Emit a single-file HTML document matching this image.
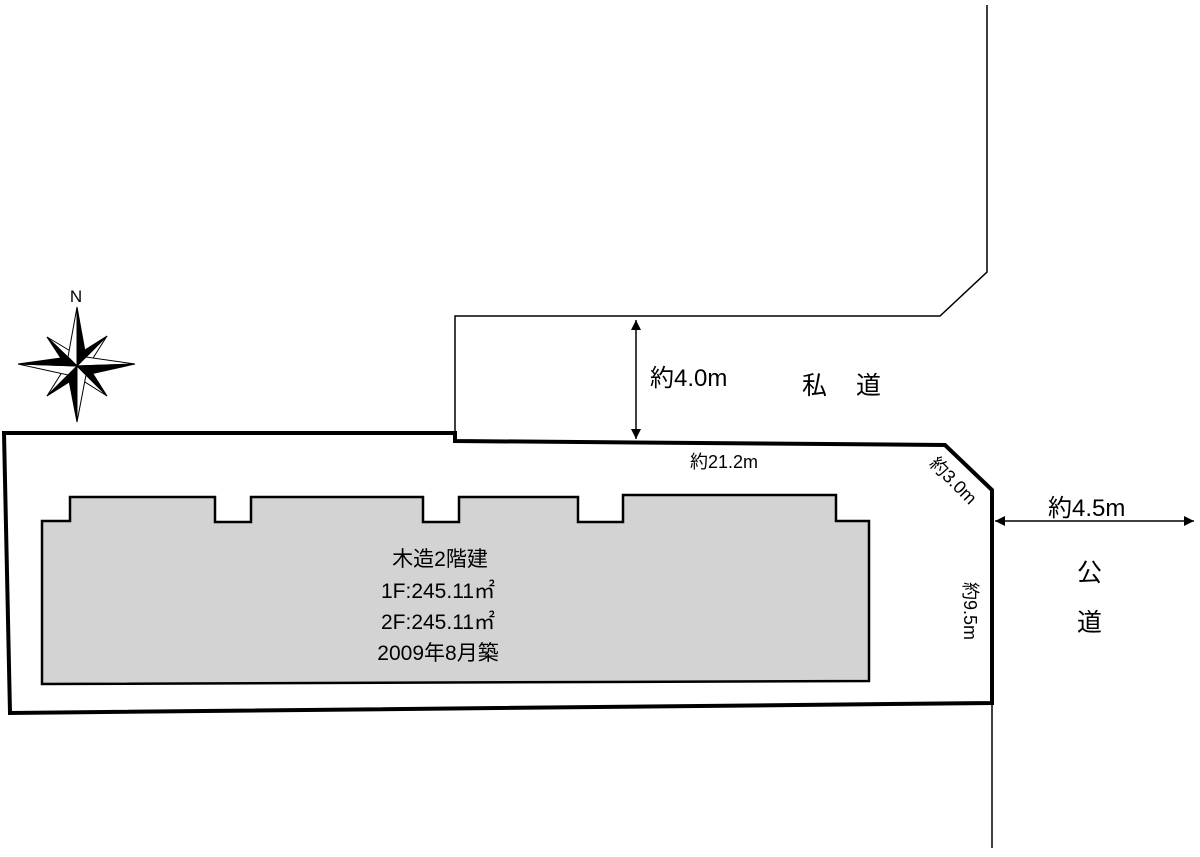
<!DOCTYPE html>
<html><head><meta charset="utf-8"><style>
html,body{margin:0;padding:0;background:#fff;}
svg{display:block;}
text{font-family:"Liberation Sans","Noto Sans CJK JP",sans-serif;fill:#000;}
</style></head><body>
<svg width="1200" height="857" viewBox="0 0 1200 857" xmlns="http://www.w3.org/2000/svg">
<defs>
<marker id="a" viewBox="0 0 10 10" refX="10" refY="5" markerWidth="10" markerHeight="10" orient="auto-start-reverse" markerUnits="userSpaceOnUse"><path d="M0,0 L10,5 L0,10 z" fill="#000"/></marker>
</defs>
<polyline points="455,433 455,316 940,316 987,272 987,5" fill="none" stroke="#000" stroke-width="1.5"/>
<line x1="992" y1="703" x2="992" y2="848" stroke="#000" stroke-width="1.5"/>
<polygon points="4,433 455,433 455,441 945,445 992,490 992,703 10,713" fill="none" stroke="#000" stroke-width="4"/>
<polygon points="42,521 70,521 70,497 215,497 215,522 251,522 251,497 423,497 423,522 459,522 459,497 578,497 578,522 623,522 623,495 836,495 836,521 869,521 869,681 42,684" fill="#d3d3d3" stroke="#000" stroke-width="2.5"/>
<g font-size="21" text-anchor="middle">
<text x="440" y="566">木造2階建</text>
<text x="438" y="598">1F:245.11㎡</text>
<text x="438" y="629">2F:245.11㎡</text>
<text x="438" y="660">2009年8月築</text>
</g>
<line x1="636" y1="320" x2="636" y2="439" stroke="#000" stroke-width="1.5" marker-start="url(#a)" marker-end="url(#a)"/>
<line x1="995" y1="521" x2="1194" y2="521" stroke="#000" stroke-width="1.5" marker-start="url(#a)" marker-end="url(#a)"/>
<text x="650" y="386" font-size="24">約4.0m</text>
<text x="802" y="394" font-size="25">私</text>
<text x="856" y="394" font-size="25">道</text>
<text x="690" y="468" font-size="18">約21.2m</text>
<text x="0" y="0" font-size="18" text-anchor="middle" transform="translate(949,485) rotate(45)">約3.0m</text>
<text x="0" y="0" font-size="18" text-anchor="middle" transform="translate(964,611) rotate(90)">約9.5m</text>
<text x="1048" y="516" font-size="24">約4.5m</text>
<text x="1077" y="581" font-size="25">公</text>
<text x="1077" y="631" font-size="25">道</text>
<text x="76" y="302" font-size="17" text-anchor="middle">N</text>
<g stroke="#000" stroke-width="1" stroke-linejoin="miter">
<!-- diagonal arms -->
<polygon points="47,337 77,355 77,366" fill="#fff"/><polygon points="47,337 66,366 77,366" fill="#000"/>
<polygon points="107,336 88,366 77,366" fill="#fff"/><polygon points="107,336 77,355 77,366" fill="#000"/>
<polygon points="47,396 66,366 77,366" fill="#fff"/><polygon points="47,396 77,377 77,366" fill="#000"/>
<polygon points="107,396 77,377 77,366" fill="#fff"/><polygon points="107,396 88,366 77,366" fill="#000"/>
<!-- main arms -->
<polygon points="77,307 68,357 77,366" fill="#fff"/><polygon points="77,307 86,357 77,366" fill="#000"/>
<polygon points="77,422 86,375 77,366" fill="#fff"/><polygon points="77,422 68,375 77,366" fill="#000"/>
<polygon points="18,364 68,375 77,366" fill="#fff"/><polygon points="18,364 68,357 77,366" fill="#000"/>
<polygon points="135,364 86,357 77,366" fill="#fff"/><polygon points="135,364 86,375 77,366" fill="#000"/>
</g>
</svg>
</body></html>
